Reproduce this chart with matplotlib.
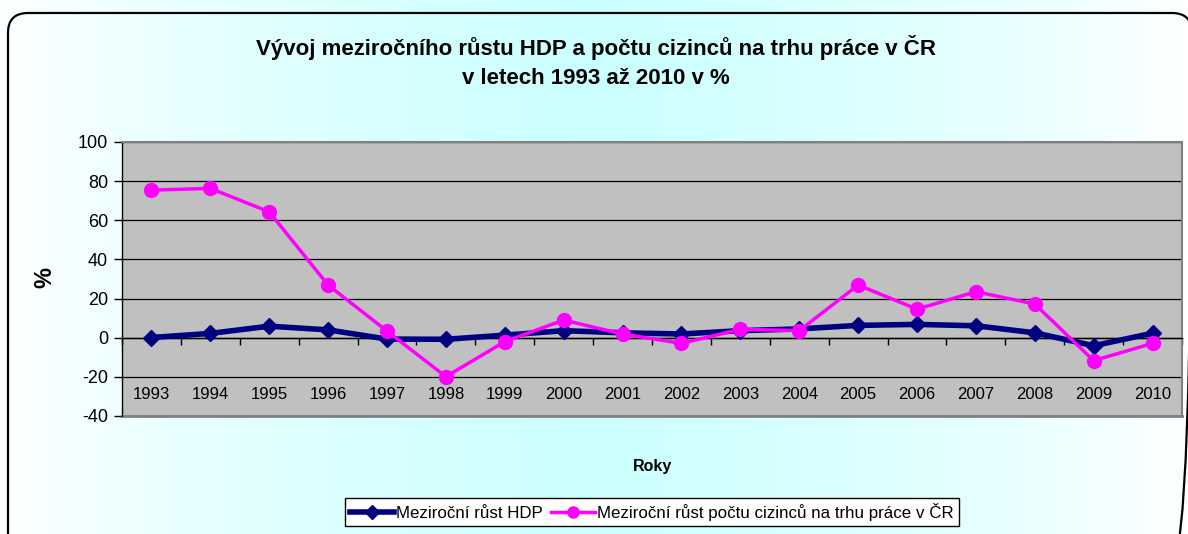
import matplotlib
matplotlib.use("Agg")
import matplotlib.pyplot as plt
import numpy as np
from matplotlib.patches import FancyBboxPatch
from matplotlib.lines import Line2D

plt.rcParams['font.family'] = ['Liberation Sans', 'DejaVu Sans']

years = ["1993", "1994", "1995", "1996", "1997", "1998", "1999", "2000", "2001",
         "2002", "2003", "2004", "2005", "2006", "2007", "2008", "2009", "2010"]
hdp = [0.1, 2.2, 5.9, 4.0, -0.7, -0.8, 1.3, 3.6, 2.5,
       1.9, 3.6, 4.5, 6.3, 6.8, 6.1, 2.5, -4.1, 2.3]
cizinci = [75.4, 76.3, 64.3, 26.9, 3.4, -19.9, -2.0, 9.0, 1.9,
           -2.9, 4.3, 3.6, 26.9, 14.6, 23.5, 17.2, -11.7, -2.9]
yticks = [-40, -20, 0, 20, 40, 60, 80, 100]

W, H = 1188, 534
fig = plt.figure(figsize=(W / 100, H / 100), dpi=100)

# background gradient + border, in pixel coordinates
bg = fig.add_axes([0, 0, 1, 1], zorder=-10)
xs = np.linspace(-1, 1, 400)
ys = np.linspace(-1, 1, 200)
X, Y = np.meshgrid(xs, ys)
t = np.clip(1 - np.abs(X) ** 1.2, 0, 1) ** 0.8
white = np.array([1.0, 1.0, 1.0])
cyan = np.array([0.80, 1.0, 1.0])
img = white[None, None, :] * (1 - t[..., None]) + cyan[None, None, :] * t[..., None]
bg.imshow(img, aspect='auto', extent=[0, W, H, 0])
bg.set_xlim(0, W)
bg.set_ylim(H, 0)
bg.axis('off')
border = FancyBboxPatch((8, 13), 1192 - 8, 560 - 13,
                        boxstyle="round,pad=0,rounding_size=20",
                        fill=False, edgecolor='black', linewidth=1.6)
bg.add_patch(border)

# main axes
left, right, top, bottom = 122, 1182, 142, 416
ax = fig.add_axes([left / W, 1 - bottom / H, (right - left) / W, (bottom - top) / H])
ax.set_facecolor('#C0C0C0')
x = np.arange(len(years))
ax.set_xlim(-0.5, len(years) - 0.5)
ax.set_ylim(-40, 100)
ax.set_yticks(yticks)
ax.set_yticklabels([str(v) for v in yticks], fontsize=13)
ax.yaxis.grid(True, color='black', linewidth=0.9)
ax.set_axisbelow(True)
for s in ['top', 'right']:
    ax.spines[s].set_color('#808080')
    ax.spines[s].set_linewidth(1.5)
ax.spines['left'].set_color('black')
ax.spines['left'].set_linewidth(1)
ax.spines['bottom'].set_position(('data', 0))
ax.spines['bottom'].set_color('black')
ax.spines['bottom'].set_linewidth(1)
ax.tick_params(axis='y', direction='out', length=6, width=1, pad=4)
ax.set_xticks(np.arange(len(years) + 1) - 0.5)
ax.set_xticklabels([])
ax.tick_params(axis='x', direction='out', length=5, width=1, color='black')
ax.plot([0, 1], [0, 0], transform=ax.transAxes, color='#808080', lw=2, clip_on=False)

for i, yr in enumerate(years):
    ax.text(i, -29, yr, ha='center', va='center', fontsize=12)

ax.plot(x, hdp, color='#000080', lw=4, marker='D', markersize=8, zorder=3,
        label='Meziroční růst HDP')
ax.plot(x, cizinci, color='#FF00FF', lw=2.5, marker='o', markersize=10, zorder=4,
        label='Meziroční růst počtu cizinců na trhu práce v ČR')

fig.text(45 / W, 1 - 277 / H, '%', rotation=90, ha='center', va='center',
         fontsize=17, fontweight='bold')

fig.text(596 / W, 1 - 47 / H, 'Vývoj meziročního růstu HDP a počtu cizinců na trhu práce v ČR',
         ha='center', va='center', fontsize=16, fontweight='bold')
fig.text(596 / W, 1 - 78 / H, 'v letech 1993 až 2010 v %',
         ha='center', va='center', fontsize=16, fontweight='bold')
fig.text(652 / W, 1 - 467 / H, 'Roky', ha='center', va='center', fontsize=11.5, fontweight='bold')

handles = [Line2D([], [], color='#000080', lw=4, marker='D', markersize=7),
           Line2D([], [], color='#FF00FF', lw=2.5, marker='o', markersize=8)]
labels = ['Meziroční růst HDP', 'Meziroční růst počtu cizinců na trhu práce v ČR']
leg = fig.legend(handles, labels, loc='center', bbox_to_anchor=(652 / W, 1 - 512 / H),
                 ncol=2, fontsize=12.2, frameon=True, fancybox=False, handlelength=2.6,
                 handletextpad=0.1, columnspacing=0.5, borderpad=0.3, borderaxespad=0)
leg.get_frame().set_edgecolor('black')
leg.get_frame().set_linewidth(1)
leg.get_frame().set_facecolor('white')
leg.get_frame().set_alpha(1)

fig.savefig('out.png', dpi=100)
